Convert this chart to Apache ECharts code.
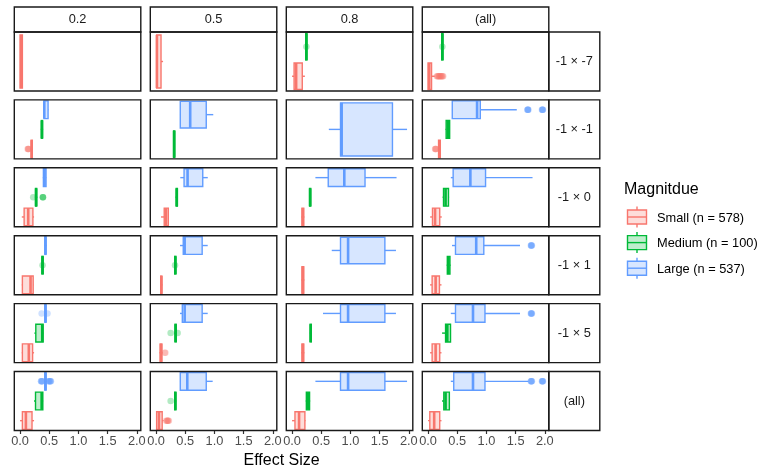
<!DOCTYPE html>
<html>
<head>
<meta charset="utf-8">
<script src="https://cdn.jsdelivr.net/npm/echarts@6/dist/echarts.min.js"></script>
<style>
  html, body { margin: 0; padding: 0; background: #fff; }
  #chart { width: 762px; height: 471px; }
</style>
</head>
<body>
<div id="chart"></div>
<script>
// Facet labels, groups and ticks
const colLabels = ['0.2', '0.5', '0.8', '(all)'];
const rowLabels = ['-1 × -7', '-1 × -1', '-1 × 0', '-1 × 1', '-1 × 5', '(all)'];
const magnitudes = ['Small', 'Medium', 'Large'];
const legendLabels = ['Small (n = 578)', 'Medium (n = 100)', 'Large (n = 537)'];
const xTicks = [0, 0.5, 1, 1.5, 2];

// Five-number summaries [min, q1, median, q3, max], rows x columns; null = no cases
const smallBox = [
  [[0.00, 0.00, 0.02, 0.04, 0.05], [0.00, 0.01, 0.015, 0.085, 0.12], [0.00, 0.035, 0.07, 0.175, 0.22], [0.00, 0.00, 0.02, 0.06, 0.115]],
  [[0.18, 0.19, 0.20, 0.21, 0.22], null, null, [0.17, 0.18, 0.195, 0.21, 0.22]],
  [[0.03, 0.07, 0.14, 0.22, 0.24], [0.085, 0.14, 0.17, 0.21, 0.215], [0.16, 0.17, 0.185, 0.20, 0.21], [0.036, 0.076, 0.12, 0.20, 0.235]],
  [[0.03, 0.04, 0.18, 0.225, 0.23], [0.07, 0.08, 0.09, 0.10, 0.11], [0.16, 0.17, 0.185, 0.20, 0.21], [0.035, 0.07, 0.13, 0.195, 0.23]],
  [[0.03, 0.04, 0.15, 0.215, 0.24], [0.06, 0.07, 0.085, 0.10, 0.11], [0.16, 0.17, 0.185, 0.20, 0.21], [0.035, 0.07, 0.13, 0.20, 0.23]],
  [[0.00, 0.04, 0.10, 0.205, 0.24], [0.00, 0.01, 0.05, 0.105, 0.13], [0.00, 0.05, 0.12, 0.22, 0.23], [0.00, 0.03, 0.105, 0.20, 0.23]]
];
const mediumBox = [
  [null, null, [0.225, 0.235, 0.245, 0.255, 0.265], [0.225, 0.235, 0.245, 0.255, 0.265]],
  [[0.355, 0.365, 0.375, 0.385, 0.395], [0.295, 0.30, 0.31, 0.32, 0.325], null, [0.30, 0.31, 0.34, 0.37, 0.375]],
  [[0.255, 0.265, 0.275, 0.285, 0.295], [0.335, 0.345, 0.355, 0.365, 0.375], [0.295, 0.30, 0.31, 0.32, 0.325], [0.25, 0.265, 0.30, 0.35, 0.36]],
  [[0.365, 0.375, 0.385, 0.395, 0.405], [0.315, 0.32, 0.33, 0.34, 0.345], null, [0.32, 0.33, 0.35, 0.375, 0.385]],
  [[0.245, 0.27, 0.38, 0.395, 0.40], [0.315, 0.325, 0.335, 0.345, 0.355], [0.305, 0.31, 0.32, 0.33, 0.335], [0.24, 0.30, 0.33, 0.385, 0.39]],
  [[0.24, 0.265, 0.37, 0.39, 0.395], [0.315, 0.32, 0.33, 0.34, 0.345], [0.235, 0.245, 0.27, 0.30, 0.31], [0.24, 0.27, 0.30, 0.365, 0.37]]
];
const largeBox = [
  [null, null, null, null],
  [[0.405, 0.41, 0.415, 0.48, 0.485], [0.41, 0.415, 0.585, 0.86, 0.98], [0.63, 0.83, 0.85, 1.72, 1.97], [0.41, 0.415, 0.84, 0.895, 1.52]],
  [[0.39, 0.40, 0.42, 0.445, 0.45], [0.415, 0.48, 0.54, 0.80, 0.886], [0.40, 0.62, 0.895, 1.25, 1.79], [0.39, 0.43, 0.725, 0.985, 1.79]],
  [[0.415, 0.425, 0.435, 0.445, 0.455], [0.41, 0.466, 0.49, 0.79, 0.885], [0.68, 0.83, 0.96, 1.59, 1.78], [0.41, 0.47, 0.825, 0.955, 1.575]],
  [[0.415, 0.425, 0.435, 0.445, 0.455], [0.41, 0.45, 0.49, 0.79, 0.885], [0.53, 0.83, 0.96, 1.59, 1.78], [0.39, 0.47, 0.77, 0.975, 1.575]],
  [[0.415, 0.425, 0.435, 0.445, 0.455], [0.41, 0.415, 0.535, 0.86, 0.97], [0.40, 0.83, 0.96, 1.59, 1.97], [0.39, 0.44, 0.77, 0.975, 1.72]]
];

// Outlying effect sizes, rows x columns
const smallOut = [
  [[], [], [], [0.15, 0.16, 0.17, 0.18, 0.19, 0.20, 0.21, 0.22, 0.23, 0.24, 0.25, 0.26]],
  [[0.13, 0.14, 0.14, 0.15], [], [], [0.12, 0.13, 0.13, 0.14]],
  [[], [], [], []],
  [[], [], [], []],
  [[], [0.15, 0.16], [], []],
  [[], [0.17, 0.19, 0.19, 0.20, 0.21, 0.22], [], []]
];
const mediumOut = [
  [[], [], [0.245], [0.245]],
  [[], [], [], []],
  [[0.225, 0.39, 0.39, 0.395], [], [], []],
  [[0.385], [0.325], [], []],
  [[], [0.25, 0.37], [], []],
  [[], [0.25], [], []]
];
const largeOut = [
  [[], [], [], []],
  [[], [], [], [1.70, 1.71, 1.71, 1.72, 1.71, 1.96, 1.96, 1.97, 1.96, 1.95]],
  [[], [], [], []],
  [[], [], [], [1.77, 1.77, 1.78, 1.77, 1.76]],
  [[0.37, 0.47], [], [], [1.77, 1.77, 1.78, 1.77, 1.76]],
  [[0.36, 0.36, 0.37, 0.38, 0.38, 0.48, 0.49, 0.50, 0.51, 0.52, 0.52, 0.53], [], [], [1.77, 1.77, 1.78, 1.77, 1.76, 1.96, 1.96, 1.97, 1.96, 1.95]]
];

// ---- layout and style ----
const FONT = '"Liberation Sans", Arial, Helvetica, sans-serif';
const LINE = ['#F8766D', '#00BA38', '#619CFF'];
const FILL = ['rgba(248,118,109,0.25)', 'rgba(0,186,56,0.25)', 'rgba(97,156,255,0.25)'];
const POINT_ALPHA = 0.3;
const COL_LEFT = [14.3, 150.3, 286.3, 422.3];
const PANEL_W = 126.5;
const ROW_TOP = [32, 99.9, 167.8, 235.7, 303.6, 371.5];
const PANEL_H = 59;
const X_MIN = -0.0985, X_MAX = 2.0685;
const BOX_FRAC = 0.9;
const BORDER = '#1a1a1a';
const BORDER_W = 1.4;
const STROKE_W = 1.4;
const MEDIAN_W = 2.6;

const boxSets = [smallBox, mediumBox, largeBox];
const outSets = [smallOut, mediumOut, largeOut];

function renderBox(params, api) {
  const y = api.value(0);
  const lo = api.value(1), q1 = api.value(2), md = api.value(3), q3 = api.value(4), hi = api.value(5);
  const m = api.value(6);
  const band = api.size([0, 1])[1];
  const h = band * BOX_FRAC;
  const pLo = api.coord([lo, y]);
  const pQ1 = api.coord([q1, y]);
  const pMd = api.coord([md, y]);
  const pQ3 = api.coord([q3, y]);
  const pHi = api.coord([hi, y]);
  const cy = pQ1[1];
  const stroke = LINE[m];
  return {
    type: 'group',
    children: [
      { type: 'line', shape: { x1: pLo[0], y1: cy, x2: pQ1[0], y2: cy }, style: { stroke, lineWidth: STROKE_W } },
      { type: 'line', shape: { x1: pQ3[0], y1: cy, x2: pHi[0], y2: cy }, style: { stroke, lineWidth: STROKE_W } },
      { type: 'rect', shape: { x: pQ1[0], y: cy - h / 2, width: pQ3[0] - pQ1[0], height: h },
        style: { fill: FILL[m], stroke, lineWidth: STROKE_W } },
      { type: 'line', shape: { x1: pMd[0], y1: cy - h / 2, x2: pMd[0], y2: cy + h / 2 },
        style: { stroke, lineWidth: MEDIAN_W } }
    ]
  };
}

const grids = [], xAxes = [], yAxes = [], series = [];
rowLabels.forEach((rl, r) => {
  colLabels.forEach((cl, c) => {
    const gi = grids.length;
    const bottom = r === rowLabels.length - 1;
    grids.push({
      left: COL_LEFT[c], top: ROW_TOP[r], width: PANEL_W, height: PANEL_H,
      show: true, backgroundColor: 'transparent', borderColor: 'transparent', borderWidth: 0
    });
    xAxes.push({
      type: 'value', gridIndex: gi, min: X_MIN, max: X_MAX,
      axisLine: { show: false }, splitLine: { show: false },
      axisTick: { show: bottom, customValues: xTicks, length: 3.5, lineStyle: { color: '#333', width: 1.2 } },
      axisLabel: {
        show: bottom, customValues: xTicks, margin: 4.5,
        formatter: v => Number(v).toFixed(1),
        color: '#4d4d4d', fontSize: 12.8, fontFamily: FONT
      }
    });
    const present = [];
    magnitudes.forEach((m, k) => { if (boxSets[k][r][c]) present.push(k); });
    yAxes.push({
      type: 'category', gridIndex: gi, data: present.map(k => magnitudes[k]),
      axisLine: { show: false }, axisTick: { show: false }, axisLabel: { show: false }, splitLine: { show: false }
    });
    const pts = [];
    const boxes = [];
    present.forEach((k, idx) => {
      outSets[k][r][c].forEach(v => pts.push([v, idx, k]));
      boxes.push([idx].concat(boxSets[k][r][c], [k]));
    });
    series.push({
      type: 'scatter', xAxisIndex: gi, yAxisIndex: gi, data: pts, symbolSize: 6.5, silent: true,
      itemStyle: { color: p => LINE[p.data[2]], opacity: POINT_ALPHA }, z: 2
    });
    series.push({
      type: 'custom', xAxisIndex: gi, yAxisIndex: gi, data: boxes, renderItem: renderBox,
      encode: { x: [1, 2, 3, 4, 5], y: 0 }, silent: true, z: 3
    });
  });
});

// panel frames, facet strips, axis title and legend
const graphics = [];
rowLabels.forEach((rl, r) => {
  colLabels.forEach((cl, c) => {
    graphics.push({ type: 'rect', shape: { x: COL_LEFT[c], y: ROW_TOP[r], width: PANEL_W, height: PANEL_H },
      style: { fill: 'transparent', stroke: BORDER, lineWidth: BORDER_W }, z: 20, silent: true });
  });
});
colLabels.forEach((cl, c) => {
  graphics.push({ type: 'rect', shape: { x: COL_LEFT[c], y: 7, width: PANEL_W, height: 25 },
    style: { fill: '#fff', stroke: BORDER, lineWidth: BORDER_W }, z: 10 });
  graphics.push({ type: 'text', x: COL_LEFT[c] + PANEL_W / 2, y: 19.5,
    style: { text: cl, align: 'center', verticalAlign: 'middle', fill: '#1a1a1a', fontSize: 12.8, fontFamily: FONT }, z: 11 });
});
const stripX = COL_LEFT[3] + PANEL_W;
rowLabels.forEach((rl, r) => {
  graphics.push({ type: 'rect', shape: { x: stripX, y: ROW_TOP[r], width: 51, height: PANEL_H },
    style: { fill: '#fff', stroke: BORDER, lineWidth: BORDER_W }, z: 10 });
  graphics.push({ type: 'text', x: stripX + 25.5, y: ROW_TOP[r] + PANEL_H / 2,
    style: { text: rl, align: 'center', verticalAlign: 'middle', fill: '#1a1a1a', fontSize: 12.8, fontFamily: FONT }, z: 11 });
});
graphics.push({ type: 'text', x: (COL_LEFT[0] + COL_LEFT[3] + PANEL_W) / 2, y: 461,
  style: { text: 'Effect Size', align: 'center', verticalAlign: 'middle', fill: '#000', fontSize: 16, fontFamily: FONT } });
graphics.push({ type: 'text', x: 624, y: 190,
  style: { text: 'Magnitdue', align: 'left', verticalAlign: 'middle', fill: '#000', fontSize: 16, fontFamily: FONT } });
const KEY_Y = [217, 242.6, 268.2];
legendLabels.forEach((lab, k) => {
  const cy = KEY_Y[k];
  graphics.push({ type: 'line', shape: { x1: 637, y1: cy - 10.5, x2: 637, y2: cy - 7 }, style: { stroke: LINE[k], lineWidth: STROKE_W } });
  graphics.push({ type: 'line', shape: { x1: 637, y1: cy + 7, x2: 637, y2: cy + 10.5 }, style: { stroke: LINE[k], lineWidth: STROKE_W } });
  graphics.push({ type: 'rect', shape: { x: 627.5, y: cy - 7, width: 19, height: 14 }, style: { fill: FILL[k], stroke: LINE[k], lineWidth: STROKE_W } });
  graphics.push({ type: 'line', shape: { x1: 627.5, y1: cy, x2: 646.5, y2: cy }, style: { stroke: LINE[k], lineWidth: STROKE_W } });
  graphics.push({ type: 'text', x: 657, y: cy + 1,
    style: { text: lab, align: 'left', verticalAlign: 'middle', fill: '#000', fontSize: 12.8, fontFamily: FONT } });
});

const chart = echarts.init(document.getElementById('chart'), null, { renderer: 'canvas' });
chart.setOption({
  animation: false,
  backgroundColor: '#fff',
  grid: grids,
  xAxis: xAxes,
  yAxis: yAxes,
  series: series,
  graphic: graphics
});
</script>
</body>
</html>
